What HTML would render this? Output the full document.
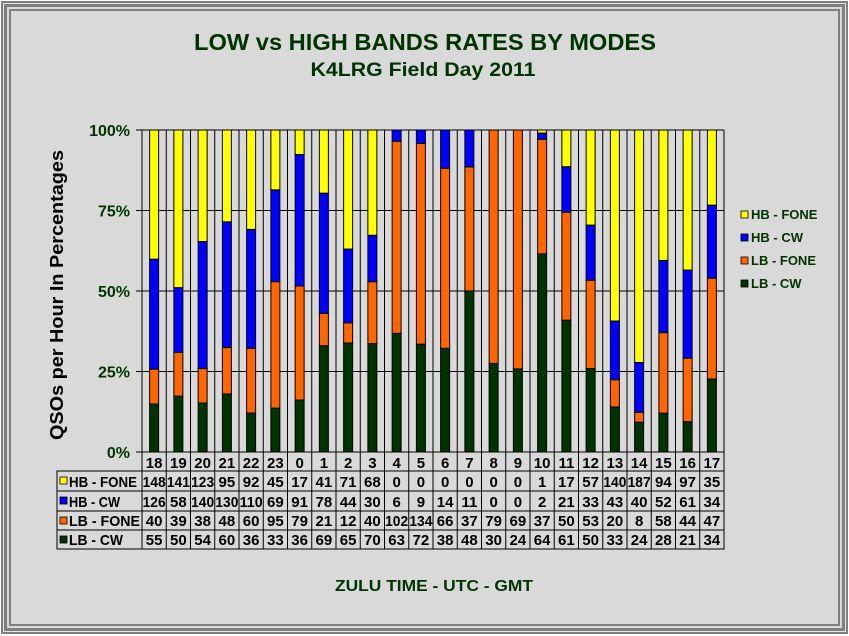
<!DOCTYPE html>
<html><head><meta charset="utf-8"><style>
html,body{margin:0;padding:0;background:#fff;width:849px;height:636px;overflow:hidden}
#f{position:absolute;left:1px;top:1px;width:847px;height:633px;box-sizing:border-box;border:2px solid #7f7f7f;background:#e6e6e6}
#f2{position:absolute;left:1px;top:1px;right:1px;bottom:1px;border:3px solid #7f7f7f;background:#d9d9d9}
#f3{position:absolute;left:2px;top:2px;right:2px;bottom:2px;border:2px solid #7f7f7f;background:#d9d9d9}
svg{position:absolute;left:0;top:0}
text{font-family:"Liberation Sans",Arial,sans-serif;font-weight:bold}
</style></head><body>
<div id="f"><div id="f2"><div id="f3"></div></div></div>
<svg id="s" width="849" height="636" xmlns="http://www.w3.org/2000/svg"></svg>
<script>
var cats=[18,19,20,21,22,23,0,1,2,3,4,5,6,7,8,9,10,11,12,13,14,15,16,17];
var hbf=[148,141,123,95,92,45,17,41,71,68,0,0,0,0,0,0,1,17,57,140,187,94,97,35];
var hbc=[126,58,140,130,110,69,91,78,44,30,6,9,14,11,0,0,2,21,33,43,40,52,61,34];
var lbf=[40,39,38,48,60,95,79,21,12,40,102,134,66,37,79,69,37,50,53,20,8,58,44,47];
var lbc=[55,50,54,60,36,33,36,69,65,70,63,72,38,48,30,24,64,61,50,33,24,28,21,34];
var cols=['#ffff00','#0000ff','#ff6600','#003300'];
var L=142,R=724,T=130,B=452,n=24,w=(R-L)/n,H=B-T;
var o='';
o+='<text x="425" y="50" font-size="23" fill="#003300" text-anchor="middle" textLength="462" lengthAdjust="spacingAndGlyphs">LOW vs HIGH BANDS RATES BY MODES</text>';
o+='<text x="423" y="76" font-size="19" fill="#003300" text-anchor="middle" textLength="225" lengthAdjust="spacingAndGlyphs">K4LRG Field Day 2011</text>';
o+='<text transform="translate(63,295) rotate(-90)" font-size="18" fill="#000" text-anchor="middle" textLength="290" lengthAdjust="spacingAndGlyphs">QSOs per Hour In Percentages</text>';
o+='<text x="434" y="591" font-size="16" fill="#003300" text-anchor="middle" textLength="198" lengthAdjust="spacingAndGlyphs">ZULU TIME  -  UTC  -  GMT</text>';
var yl=['0%','25%','50%','75%','100%'];
for(var i=0;i<5;i++){var y=B-H*i/4;o+='<line x1="'+(L-6)+'" x2="'+R+'" y1="'+y+'" y2="'+y+'" stroke="#000" stroke-width="1"/>';
o+='<text x="'+(L-12)+'" y="'+(y+6)+'" font-size="16" fill="#003300" text-anchor="end">'+yl[i]+'</text>';}
for(var i=0;i<=n;i++){var x=L+i*w;o+='<line x1="'+x+'" x2="'+x+'" y1="'+T+'" y2="'+B+'" stroke="#000" stroke-width="1"/>';}
for(var i=0;i<n;i++){var tot=hbf[i]+hbc[i]+lbf[i]+lbc[i];var vals=[lbc[i],lbf[i],hbc[i],hbf[i]];var cc=[cols[3],cols[2],cols[1],cols[0]];var y=B;var x=L+i*w+w/2-4.5;
for(var k=0;k<4;k++){var h=H*vals[k]/tot;if(h<=0)continue;o+='<rect x="'+x+'" y="'+(y-h)+'" width="9" height="'+h+'" fill="'+cc[k]+'" stroke="#000" stroke-width="1"/>';y-=h;}}
var rows=[[471,491],[491,511],[511,530],[530,549]];
var labs=['HB - FONE','HB - CW','LB - FONE','LB - CW'];var data=[hbf,hbc,lbf,lbc];
var lw=[68,51,71,54];
o+='<rect x="'+L+'" y="'+B+'" width="'+(R-L)+'" height="'+(549-B)+'" fill="none" stroke="#000"/>';
o+='<rect x="57" y="471" width="'+(R-57)+'" height="78" fill="none" stroke="#000"/>';
for(var i=0;i<n;i++){var x=L+i*w;o+='<line x1="'+x+'" x2="'+x+'" y1="452" y2="549" stroke="#000"/>';
o+='<text x="'+(x+w/2)+'" y="468" font-size="15" fill="#000" text-anchor="middle">'+cats[i]+'</text>';}
for(var r=0;r<4;r++){var y0=rows[r][0],y1=rows[r][1];o+='<line x1="57" x2="'+R+'" y1="'+y0+'" y2="'+y0+'" stroke="#000"/>';
o+='<rect x="60" y="'+(y0+6)+'" width="7" height="7" fill="'+cols[r]+'" stroke="#000" stroke-width="0.8"/>';
o+='<text x="69" y="'+(y1-4)+'" font-size="15" fill="#000" textLength="'+lw[r]+'" lengthAdjust="spacingAndGlyphs">'+labs[r]+'</text>';
for(var i=0;i<n;i++){var big=data[r][i]>99;o+='<text x="'+(L+i*w+w/2)+'" y="'+(y1-4)+'" font-size="15" fill="#000" text-anchor="middle" '+(big?'textLength="23" lengthAdjust="spacingAndGlyphs"':'')+'>'+data[r][i]+'</text>';}}
for(var r=0;r<4;r++){var y=216+r*23;o+='<rect x="741" y="'+(y-5)+'" width="7" height="7" fill="'+cols[r]+'" stroke="#000" stroke-width="0.8"/>';
o+='<text x="751" y="'+(y+3)+'" font-size="13" fill="#003300">'+labs[r]+'</text>';}
document.getElementById('s').innerHTML=o;
</script>
</body></html>
